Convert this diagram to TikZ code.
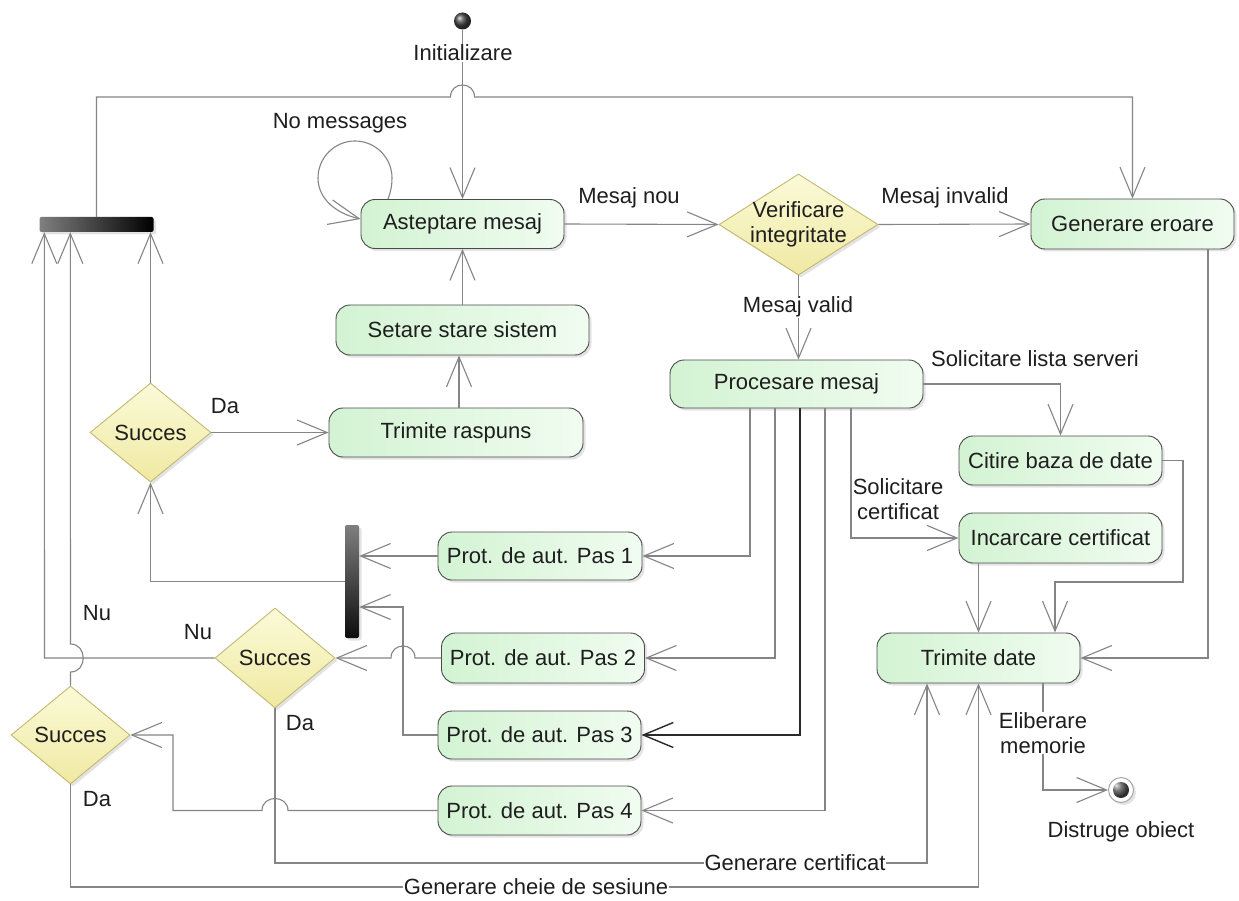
\documentclass[tikz,border=0pt]{standalone}
\usepackage{fontspec}
\setmainfont{Liberation Sans}
\usetikzlibrary{arrows.meta,shapes.geometric,shadows}

\definecolor{lineg}{HTML}{858585}
\definecolor{darkline}{HTML}{2A2A2A}
\definecolor{boxline}{HTML}{4A4A4A}
\definecolor{actL}{HTML}{D3F3D3}
\definecolor{actR}{HTML}{F0FCF0}
\definecolor{decline}{HTML}{C4B870}
\definecolor{decT}{HTML}{FBFAD8}
\definecolor{decB}{HTML}{F0E9A2}
\definecolor{txt}{HTML}{1E1E1E}

\newcommand\diagfont{\fontsize{22}{24.5}\selectfont}

\begin{document}
\begin{tikzpicture}[x=1pt,y=-1pt,
  softshadow/.style={drop shadow={shadow xshift=2.5pt,shadow yshift=-2.5pt,opacity=0.22}},
  act/.style={rectangle, rounded corners=14pt, draw=boxline, line width=0.9pt,
    left color=actL, right color=actR, softshadow, font=\diagfont, text=txt,
    inner sep=0pt, minimum width=203pt, minimum height=49pt},
  dec/.style={diamond, draw=decline, line width=0.9pt, top color=decT, bottom color=decB,
    inner sep=0pt, softshadow},
  forkbar/.style={rectangle, rounded corners=2pt, inner sep=0pt, left color=black!50,
    right color=black, softshadow},
  joinbar/.style={rectangle, rounded corners=2pt, inner sep=0pt, top color=black!50,
    bottom color=black!95, softshadow},
  startnode/.style={circle, inner sep=0pt, minimum size=17pt, shading=ball,
    ball color=gray!55!black},
  endnode/.style={circle, inner sep=0pt, minimum size=25pt, draw=gray!70, line width=1pt,
    fill=white, softshadow,
    path picture={\shade[ball color=gray!55!black] (path picture bounding box.center) circle (8pt);}},
  flow/.style={draw=lineg, line width=1.1pt, -{Straight Barb[length=30pt,width=25pt]}},
  lab/.style={font=\diagfont, text=txt, inner sep=1pt},
  wlab/.style={lab, fill=white},
]
\fill[white] (0,0) rectangle (1239,901);
\useasboundingbox (0,0) rectangle (1239,901);

% initial and final states
\node[startnode] (init) at (462.5,21) {};
\node[endnode] (fin) at (1121,790) {};

% activities
\node[act] (wait) at (462.5,224) {Asteptare mesaj};
\node[act, minimum width=253pt, minimum height=50pt] (setst) at (462.5,330) {Setare stare sistem};
\node[act, minimum width=254pt] (reply) at (456,432.5) {Trimite raspuns};
\node[act, minimum width=253pt, minimum height=48pt] (proc) at (796.5,384) {Procesare mesaj};
\node[act, minimum height=50pt] (err) at (1132.5,224) {Generare eroare};
\node[act] (db) at (1060.5,460.5) {Citire baza de date};
\node[act, minimum height=50pt] (cert) at (1060.5,538) {Incarcare certificat};
\node[act, minimum height=50pt] (send) at (978.5,658) {Trimite date};
\node[act, minimum width=204pt, minimum height=48pt] (p1) at (540,556) {Prot. de aut. Pas 1};
\node[act, minimum height=50pt] (p2) at (543,658) {Prot. de aut. Pas 2};
\node[act, minimum height=48pt] (p3) at (539.5,735) {Prot. de aut. Pas 3};
\node[act] (p4) at (539.5,810.5) {Prot. de aut. Pas 4};

% decisions
\node[dec, minimum width=159pt, minimum height=101pt,
  label={[lab,align=center]center:Verificare\\integritate}] (chk) at (798.5,224.5) {};
\node[dec, minimum width=121pt, minimum height=99pt, label={[lab]center:Succes}] (ok1) at (150.5,432.5) {};
\node[dec, minimum width=120pt, minimum height=100pt, label={[lab]center:Succes}] (ok2) at (275,658) {};
\node[dec, minimum width=119pt, minimum height=98pt, label={[lab]center:Succes}] (ok3) at (70.5,735) {};

% synchronisation bars
\node[forkbar, minimum width=114pt, minimum height=15pt] (fork) at (96.5,224.5) {};
\node[joinbar, minimum width=14pt, minimum height=113pt] (join) at (352,581.5) {};

% start and waiting loop
\draw[flow] (init) -- (init |- wait.north);
\draw[flow] (388,199) .. controls (391,191) and (392,185) .. (392,178)
  .. controls (392,157.6) and (375.4,141) .. (355,141)
  .. controls (334.6,141) and (318,157.6) .. (318,178)
  .. controls (318,200) and (338,214) .. ([yshift=5pt]wait.west);
\draw[flow] (fork.north) -- (96.5,97) -- (450.5,97) .. controls (450.5,81) and (474.5,81) .. (474.5,97)
  -- (1132.5,97) -- (err.north);

% message check
\draw[flow] (wait.east) -- (chk.west);
\draw[flow] (chk.east) -- (err.west);
\draw[flow] (chk.south) -- (chk.south |- proc.north);

% processing branches
\draw[flow] (proc.east) -- (db.north |- proc.east) -- (db.north);
\draw[flow] ([xshift=54.5pt]proc.south) -- (851,538) -- (cert.west);
\draw[flow] ([xshift=-46.5pt]proc.south) -- (750,556) -- (p1.east);
\draw[flow] ([xshift=-21.5pt]proc.south) -- (775,658) -- (p2.east);
\draw[flow, draw=darkline, line width=1.4pt] ([xshift=3.5pt]proc.south) -- (800,735) -- (p3.east);
\draw[flow] ([xshift=28.5pt]proc.south) -- (825,810.5) -- (p4.east);

% sending data
\draw[flow] (db.east) -- (1183,460.5) -- (1183,582) -- (1055,582) -- ([xshift=76.5pt]send.north);
\draw[flow] (send.north |- cert.south) -- (send.north);
\draw[flow] ([xshift=75.5pt]err.south) -- (1208,658) -- (send.east);
\draw[flow] ([xshift=64.5pt]send.south) -- (1043,790) -- (fin.west);

% reply path
\draw[flow] ([xshift=3pt]reply.north) -- ([xshift=3pt]reply.north |- setst.south);
\draw[flow] (setst.north) -- (wait.south);
\draw[flow] (ok1.east) -- (reply.west);
\draw[flow] (ok1.north) -- (ok1.north |- fork.south);

% authentication steps
\draw[flow] (p1.west) -- (p1.west -| join.east);
\draw[flow] (join.west) -- (ok1.south |- join.west) -- (ok1.south);
\draw[flow] (p3.west) -- (403,735) -- (403,607) -- ([yshift=-25.5pt]join.east);
\draw[flow] (p2.west) -- (415,658) .. controls (415,642) and (391,642) .. (391,658) -- (ok2.east);
\draw[flow] (ok2.west) -- (44.5,658) -- ([xshift=5pt]fork.south west);
\draw[flow] (ok3.north) -- (70.5,672) .. controls (87.5,672) and (87.5,644) .. (70.5,644)
  -- ([xshift=31pt]fork.south west);
\draw[flow] (p4.west) -- (288,810.5) .. controls (288,794.5) and (262,794.5) .. (262,810.5)
  -- (173,810.5) -- (173,735) -- (ok3.east);
\draw[flow] (ok2.south) -- (275,863) -- (927,863) -- ([xshift=-51.5pt]send.south);
\draw[flow] (ok3.south) -- (70.5,887) -- (978.5,887) -- (send.south);

% labels
\node[wlab] at (463,53) {Initializare};
\node[lab] at (340,123) {No messages};
\node[lab] at (629,198) {Mesaj nou};
\node[lab] at (945,198) {Mesaj invalid};
\node[wlab] at (798,307) {Mesaj valid};
\node[lab] at (1035,359) {Solicitare lista serveri};
\node[lab, align=center] at (898,499) {Solicitare\\certificat};
\node[lab] at (225,406) {Da};
\node[lab] at (97,613) {Nu};
\node[lab] at (198,632) {Nu};
\node[lab] at (300,723) {Da};
\node[lab] at (97,799) {Da};
\node[wlab] at (795,863) {Generare certificat};
\node[wlab] at (536,887) {Generare cheie de sesiune};
\node[wlab, align=center] at (1043,733) {Eliberare\\memorie};
\node[lab] at (1121,832) {Distruge obiect};
\end{tikzpicture}
\end{document}
